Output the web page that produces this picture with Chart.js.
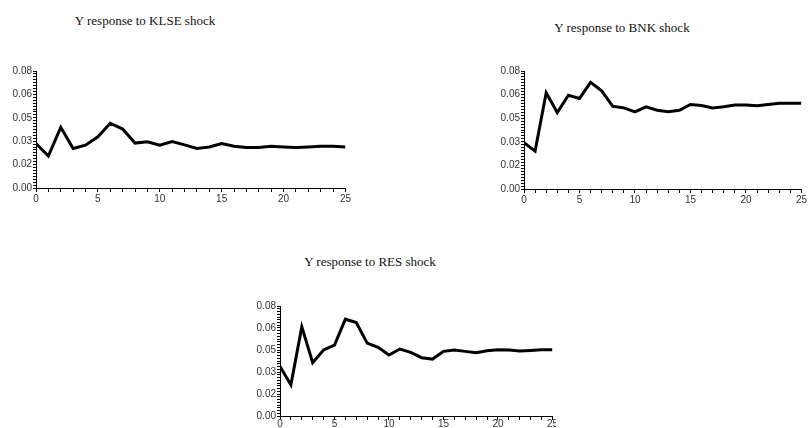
<!DOCTYPE html>
<html>
<head>
<meta charset="utf-8">
<script src="https://cdn.jsdelivr.net/npm/chart.js@4"></script>
<style>
  body { margin: 0; background: #fff; width: 808px; height: 428px; position: relative; overflow: hidden; }
  .box { position: absolute; }
  .ttl { position: absolute; font-family: "Liberation Serif", "Times New Roman", serif; font-size: 13px; color: #111; white-space: nowrap; transform: translateX(-50%); }
</style>
</head>
<body>
<div class="ttl" style="left:145px; top:13px">Y response to KLSE shock</div>
<div class="ttl" style="left:622px; top:20px">Y response to BNK shock</div>
<div class="ttl" style="left:370px; top:254px">Y response to RES shock</div>
<div class="box" style="left:0px; top:64px; width:352px; height:142px"><canvas id="klse"></canvas></div>
<div class="box" style="left:488px; top:64px; width:320px; height:143px"><canvas id="bnk"></canvas></div>
<div class="box" style="left:244px; top:299px; width:312px; height:129px"><canvas id="res"></canvas></div>
<script>
// horizon (periods after the shock)
const steps = [0,1,2,3,4,5,6,7,8,9,10,11,12,13,14,15,16,17,18,19,20,21,22,23,24,25];

// impulse responses
const klse = [0.0304,0.0219,0.0415,0.0270,0.0293,0.0350,0.0443,0.0403,0.0307,0.0316,0.0293,0.0318,0.0295,0.0270,0.0281,0.0304,0.0286,0.0277,0.0277,0.0286,0.0281,0.0277,0.0281,0.0286,0.0286,0.0281];
const bnk  = [0.0314,0.0257,0.0652,0.0518,0.0636,0.0614,0.0723,0.0666,0.0561,0.0550,0.0523,0.0557,0.0534,0.0523,0.0534,0.0573,0.0566,0.0550,0.0557,0.0570,0.0570,0.0564,0.0573,0.0582,0.0582,0.0582];
const res  = [0.0359,0.0227,0.0648,0.0388,0.0480,0.0516,0.0704,0.0680,0.0530,0.0499,0.0443,0.0487,0.0463,0.0424,0.0414,0.0470,0.0480,0.0470,0.0460,0.0475,0.0482,0.0480,0.0472,0.0477,0.0482,0.0482];

// y axis: labelled every 0.016 (printed with 2 decimals), minor marks every 0.002
const yMax = 0.08;
const yMinor = 0.002;
const yMajorEvery = 8;

function makeChart(id, values, xPad, xHeight) {
  const ctx = document.getElementById(id).getContext('2d');
  return new Chart(ctx, {
    type: 'line',
    data: {
      datasets: [{
        data: steps.map((s, i) => ({ x: s, y: values[i] })),
        borderColor: '#000',
        borderWidth: 3,
        pointRadius: 0,
        tension: 0,
        fill: false
      }]
    },
    options: {
      responsive: true,
      maintainAspectRatio: false,
      animation: false,
      layout: { padding: { top: 4, right: 2 } },
      plugins: { legend: { display: false }, title: { display: false }, tooltip: { enabled: false } },
      scales: {
        x: {
          type: 'linear', min: 0, max: 25,
          afterFit: s => { if (xHeight) s.height = xHeight; },
          border: { display: true, color: '#000', width: 1 },
          grid: { drawOnChartArea: false, color: '#000', tickLength: 4 },
          ticks: {
            stepSize: 1, autoSkip: false, maxRotation: 0, padding: xPad,
            color: '#333', font: { family: 'Liberation Sans, Arial, sans-serif', size: 10 },
            callback: v => (v % 5 === 0 ? String(v) : '')
          }
        },
        y: {
          min: 0, max: yMax,
          afterFit: s => { s.width = 36; },
          border: { display: true, color: '#000', width: 1 },
          grid: { drawOnChartArea: false, color: '#000', tickLength: 3 },
          ticks: {
            stepSize: yMinor, autoSkip: false, padding: 1,
            color: '#333', font: { family: 'Liberation Sans, Arial, sans-serif', size: 10 },
            callback: (v, i) => (i % yMajorEvery === 0 ? v.toFixed(2) : '')
          }
        }
      }
    }
  });
}

makeChart('klse', klse, 1);
makeChart('bnk', bnk, 1);
makeChart('res', res, -2, 12);
</script>
</body>
</html>
